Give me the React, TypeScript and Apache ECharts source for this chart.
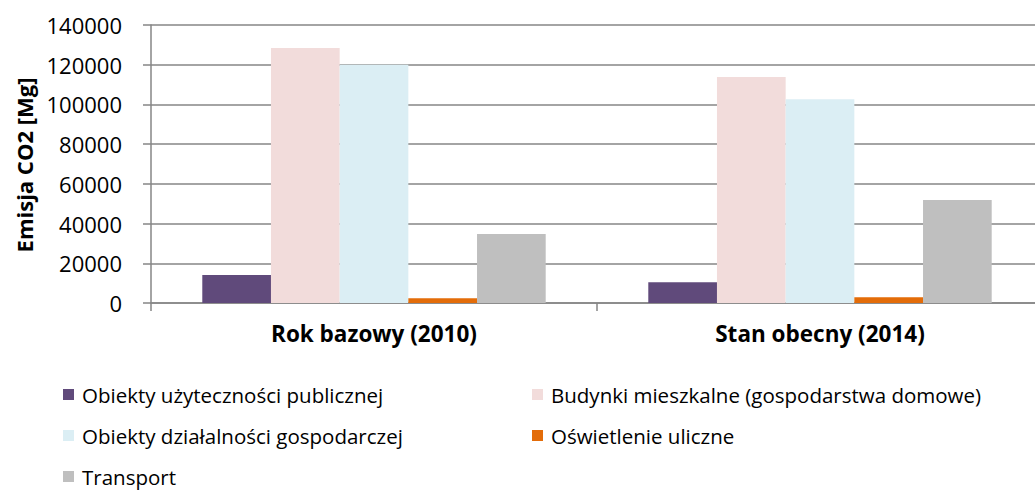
import React, { useEffect, useRef } from "react";
import * as echarts from "echarts";

const categories = ["Rok bazowy (2010)", "Stan obecny (2014)"];
const seriesNames = [
  "Obiekty użyteczności publicznej",
  "Budynki mieszkalne (gospodarstwa domowe)",
  "Obiekty działalności gospodarczej",
  "Oświetlenie uliczne",
  "Transport",
];
const publiczne = [14100, 10400];
const mieszkalne = [128400, 113800];
const gospodarcze = [120000, 102600];
const oswietlenie = [2400, 2900];
const transport = [34800, 51900];
const colors = ["#604A7B", "#F2DCDB", "#DBEEF4", "#E36C09", "#BFBFBF"];
const yTicks = { min: 0, max: 140000, interval: 20000 };

const FONT = "Open Sans";

export default function App() {
  const ref = useRef<HTMLDivElement>(null);
  useEffect(() => {
    if (!ref.current) return;
    const chart = echarts.init(ref.current, null, { renderer: "svg" });
    const values = [publiczne, mieszkalne, gospodarcze, oswietlenie, transport];
    const legendText = {
      fontFamily: FONT,
      fontSize: 20.5,
      color: "#000",
      lineHeight: 20,
      padding: [0, 0, 0, 3],
    };
    chart.setOption({
      animation: false,
      backgroundColor: "#fff",
      textStyle: { fontFamily: FONT },
      grid: { left: 151, top: 25, width: 892, height: 278, containLabel: false },
      xAxis: {
        type: "category",
        data: categories,
        axisLine: { show: true, lineStyle: { color: "#868686", width: 1.5 } },
        axisTick: { show: true, length: 8, lineStyle: { color: "#868686", width: 1.5 } },
        axisLabel: {
          fontFamily: FONT,
          fontSize: 22.5,
          fontWeight: "bold",
          color: "#000",
          margin: 19,
        },
      },
      yAxis: {
        type: "value",
        min: yTicks.min,
        max: yTicks.max,
        interval: yTicks.interval,
        axisLine: { show: true, lineStyle: { color: "#868686", width: 1.5 } },
        axisTick: { show: true, inside: false, length: 8, lineStyle: { color: "#868686", width: 1.5 } },
        splitLine: { show: true, lineStyle: { color: "#868686", width: 1.5 } },
        axisLabel: {
          fontFamily: FONT,
          fontSize: 22,
          color: "#000",
          margin: 29,
          formatter: (v: number) => String(v),
        },
      },
      graphic: [
        {
          type: "text",
          x: 24,
          y: 165,
          rotation: Math.PI / 2,
          style: {
            text: "Emisja CO2 [Mg]",
            fontFamily: FONT,
            fontSize: 22,
            fontWeight: "bold",
            fill: "#000",
            textAlign: "center",
            textVerticalAlign: "middle",
          },
        },
      ],
      legend: [
        {
          left: 63,
          top: 384,
          padding: 0,
          orient: "vertical",
          icon: "rect",
          itemWidth: 11,
          itemHeight: 11,
          itemGap: 20,
          data: [seriesNames[0], seriesNames[2], seriesNames[4]],
          textStyle: legendText,
        },
        {
          left: 532,
          top: 384,
          padding: 0,
          orient: "vertical",
          icon: "rect",
          itemWidth: 11,
          itemHeight: 11,
          itemGap: 20,
          data: [seriesNames[1], seriesNames[3]],
          textStyle: legendText,
        },
      ],
      series: seriesNames.map((name, i) => ({
        name,
        type: "bar",
        data: values[i],
        barGap: "0%",
        barCategoryGap: "23%",
        itemStyle: { color: colors[i] },
      })),
    });
    return () => chart.dispose();
  }, []);
  return (
    <div style={{ position: "fixed", left: 0, top: 0, width: 1035, height: 496, overflow: "hidden", background: "#fff" }}>
      <div ref={ref} style={{ width: 1043, height: 496 }} />
    </div>
  );
}
